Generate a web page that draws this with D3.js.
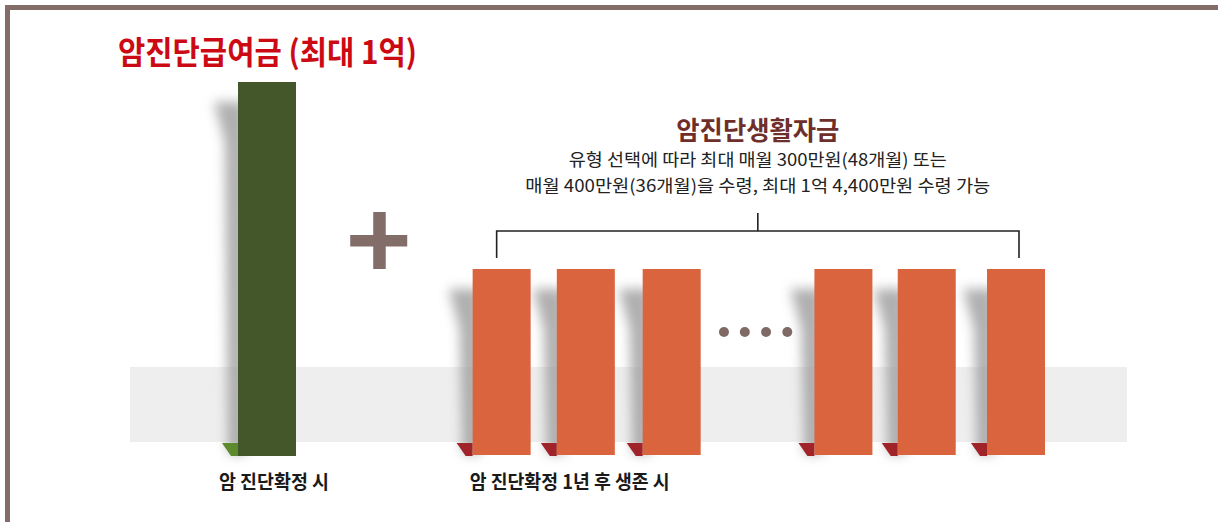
<!DOCTYPE html>
<html><head><meta charset="utf-8">
<script src="https://cdn.jsdelivr.net/npm/d3@7"></script>
<style>
html,body{margin:0;padding:0;background:#fff;}
svg{display:block;font-family:"Noto Sans CJK KR","Noto Sans",sans-serif;}
</style></head>
<body>
<svg id="chart" width="1218" height="522"></svg>
<script>
// ---- data ----
const categories = ["진단", "1", "2", "3", "n-2", "n-1", "n"];
const slots      = [0, 2.76, 3.75, 4.76, 6.78, 7.76, 8.81];   // horizontal slot positions
const values     = [100, 50, 50, 50, 50, 50, 50];              // relative amounts (1억 = 100)
const groups     = ["lump", "monthly", "monthly", "monthly", "monthly", "monthly", "monthly"];
const dotSlots   = [5.375, 5.62, 5.87, 6.12];
const plusSlot   = 1.32;
const groupLabels = ["암 진단확정 시", "암 진단확정 1년 후 생존 시"];
const titleText  = "암진단급여금 (최대 1억)";
const subTitle   = "암진단생활자금";
const subLines   = ["유형 선택에 따라 최대 매월 300만원(48개월) 또는", "매월 400만원(36개월)을 수령, 최대 1억 4,400만원 수령 가능"];

const colors = {lump: "#43572a", monthly: "#d9643e"};
const tabColors = {lump: "#5e8a2e", monthly: "#a0232a"};

const svg = d3.select("#chart");
const x = d3.scaleLinear().domain([0, 8.81]).range([267, 1016]);
const y = d3.scaleLinear().domain([0, 100]).range([456, 82]);
const barW = 58;

// border
svg.append("rect").attr("x", 5).attr("y", 5).attr("width", 1213).attr("height", 5).attr("fill", "#836d69");
svg.append("rect").attr("x", 5).attr("y", 5).attr("width", 5).attr("height", 517).attr("fill", "#836d69");

// gray band
svg.append("rect").attr("x", 130).attr("y", 367).attr("width", 997).attr("height", 75).attr("fill", "#eeeeee");

// shadow filter
const defs = svg.append("defs");
defs.append("filter").attr("id", "blur").attr("x", "-50%").attr("y", "-20%").attr("width", "200%").attr("height", "140%")
  .append("feGaussianBlur").attr("stdDeviation", 6);

const data = categories.map((c, i) => ({c, slot: slots[i], v: values[i], g: groups[i]}));

// shadows
svg.append("g").selectAll("path").data(data).join("path")
  .attr("d", d => {
    const l = x(d.slot) - barW / 2, t = y(d.v), b = y(0);
    return `M${l - 24},${t + 20} L${l + 8},${t + 20} L${l + 8},${b - 2} L${l - 10},${b - 2} L${l - 13},${t + 60} Z`;
  })
  .attr("fill", "#9d9b9c").attr("opacity", 0.8).attr("filter", "url(#blur)");

// bottom tabs
svg.append("g").selectAll("path").data(data).join("path")
  .attr("d", d => {
    const l = x(d.slot) - barW / 2, b = y(0);
    return `M${l - 16},${b - 13} L${l},${b - 13} L${l},${b} L${l - 7},${b} Z`;
  })
  .attr("fill", d => tabColors[d.g]);

// bars
svg.append("g").selectAll("rect").data(data).join("rect")
  .attr("x", d => x(d.slot) - barW / 2)
  .attr("y", d => y(d.v))
  .attr("width", barW)
  .attr("height", d => (d.g === "lump" ? y(0) : y(0) - 1) - y(d.v))
  .attr("fill", d => colors[d.g]);

// dots
svg.append("g").selectAll("circle").data(dotSlots).join("circle")
  .attr("cx", d => x(d)).attr("cy", 332).attr("r", 5).attr("fill", "#7f6a66");

// plus sign
const px = x(plusSlot);
svg.append("rect").attr("x", px - 6).attr("y", 212).attr("width", 12.5).attr("height", 57).attr("fill", "#836d69");
svg.append("rect").attr("x", px - 29).attr("y", 235).attr("width", 57).attr("height", 11.5).attr("fill", "#836d69");

// bracket
const bl = x(slots[1]) - 5, br = x(slots[6]) + 3, bc = (bl + br) / 2;
svg.append("path")
  .attr("d", `M${bl},258 L${bl},231 L${br},231 L${br},258 M${bc},231 L${bc},213`)
  .attr("fill", "none").attr("stroke", "#222").attr("stroke-width", 1.6);

// title
svg.append("text").attr("x", 118).attr("y", 64).text(titleText)
  .attr("font-size", 32).attr("font-weight", 700).attr("fill", "#cc0a14")
  .attr("textLength", 299).attr("lengthAdjust", "spacingAndGlyphs");

// sub title & description
svg.append("text").attr("x", bc).attr("y", 140).attr("text-anchor", "middle").text(subTitle)
  .attr("font-size", 26).attr("font-weight", 700).attr("fill", "#6e2f2b")
  .attr("textLength", 163).attr("lengthAdjust", "spacingAndGlyphs");
const subW = [378, 465];
svg.append("g").selectAll("text").data(subLines).join("text")
  .attr("x", bc).attr("y", (d, i) => 166 + i * 26).attr("text-anchor", "middle")
  .attr("font-size", 17.5).attr("fill", "#222")
  .attr("textLength", (d, i) => subW[i]).attr("lengthAdjust", "spacingAndGlyphs").text(d => d);

// group labels
const labelX = [x(slots[0]) + 7, (x(slots[1]) + x(slots[3])) / 2 - 17];
const labelW = [110, 200];
svg.append("g").selectAll("text").data(groupLabels).join("text")
  .attr("x", (d, i) => labelX[i]).attr("y", 489).attr("text-anchor", "middle")
  .attr("font-size", 19.5).attr("font-weight", 700).attr("fill", "#1a1a1a")
  .attr("textLength", (d, i) => labelW[i]).attr("lengthAdjust", "spacingAndGlyphs").text(d => d);
</script>
</body></html>
